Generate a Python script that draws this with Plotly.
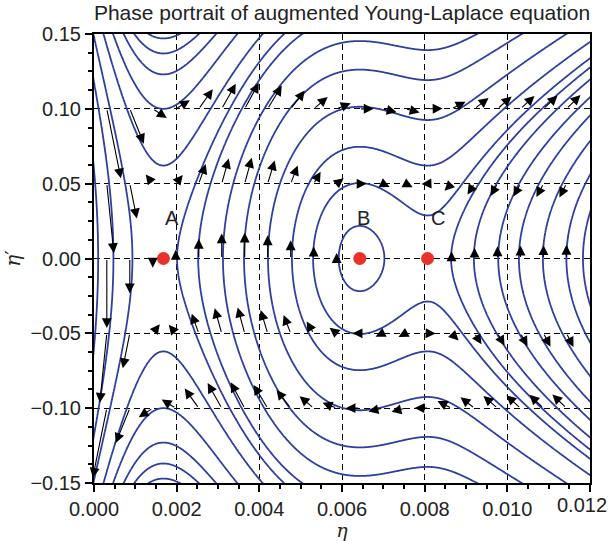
import numpy as np
import plotly.graph_objects as go

# Equilibria of the augmented Young-Laplace equation (eta' = 0, eta'' = 0)
fixed_eta = [0.00168, 0.00643, 0.00807]
fixed_names = ["A", "B", "C"]
label_eta = [0.00189, 0.00652, 0.00832]
label_slope = [0.027, 0.027, 0.027]

# Force law  eta'' = g(eta) = k (eta-A)(eta-B)(eta-C) * s(eta),
# s = 1 below C and 1 / (1 + ((eta-C)/L)^2) above C (pressure term saturates)
force_gain = 2.1e8
saturation_len = 0.00098

# Trajectories, each identified by the film thickness where eta' = 0 ...
turning_left = [0.00010, 0.00047, 0.00093]                       # left of A
turning_mid = [0.00201, 0.00252, 0.00312, 0.00363, 0.00421, 0.00479, 0.00530]
turning_orbit = [0.00592]                                          # closed orbit round B
turning_right = [0.00864, 0.00919, 0.00978, 0.01028, 0.01086, 0.01143, 0.01183]
# ... or by the slope with which they pass over the saddle A
slope_over_A = [0.062, 0.100, 0.123, 0.137, 0.147]

# Quiver sample rows / columns
arrow_rows = [0.10, 0.05, 0.0, -0.05, -0.10]
arrow_cols = [0.00031 + 0.000556 * i for i in range(21)]
arrow_scale = 0.0034
reversed_rows = [0.05, -0.05]

x_ticks = [0.000, 0.002, 0.004, 0.006, 0.008, 0.010, 0.012]
x_tick_text = ["0.000", "0.002", "0.004", "0.006", "0.008", "0.010", "0.012"]
y_ticks = [-0.15, -0.10, -0.05, 0.00, 0.05, 0.10, 0.15]

A, B, C = fixed_eta


def force(eta):
    eta = np.asarray(eta, dtype=float)
    x = eta - C
    damp = np.where(x > 0, 1.0 / (1.0 + (x / saturation_len) ** 2), 1.0)
    return force_gain * (eta - A) * (eta - B) * x * damp


# G(eta) = int g, so that H = eta'^2/2 - G(eta) is conserved along trajectories
eta_fine = np.linspace(-0.0003, 0.0123, 6001)
g_fine = force(eta_fine)
G_fine = np.concatenate([[0.0], np.cumsum(0.5 * (g_fine[1:] + g_fine[:-1]) * np.diff(eta_fine))])


def energy(eta, slope):
    return 0.5 * np.asarray(slope) ** 2 - np.interp(eta, eta_fine, G_fine)


blue = "#2f3f9f"
gy = np.linspace(-0.153, 0.153, 400)


def family_trace(levels, x_lo, x_hi, nx):
    """One contour trace drawing the level sets H = levels inside x_lo..x_hi."""
    levels = np.sort(np.asarray(levels, dtype=float))
    n = len(levels)
    gx = np.linspace(x_lo, x_hi, nx)
    EX, EY = np.meshgrid(gx, gy)
    H = energy(EX.ravel(), EY.ravel()).reshape(EX.shape)
    if n == 1:
        Z = (H - levels[0]) / 1e-4
        start = end = 0.0
    else:
        span = levels[-1] - levels[0]
        knots = np.concatenate([[levels[0] - 10 * span], levels, [levels[-1] + 10 * span]])
        idx = np.concatenate([[-10.0 * n], np.arange(n, dtype=float), [11.0 * n]])
        Z = np.interp(H, knots, idx)
        start, end = 0.0, n - 1.0
    return go.Contour(
        x=gx, y=gy, z=Z.astype(np.float32),
        contours=dict(start=start, end=end, size=1, coloring="lines", showlabels=False),
        colorscale=[[0, blue], [1, blue]], showscale=False, autocontour=False,
        line=dict(width=1.8, smoothing=1.0), hoverinfo="skip",
    )


fig = go.Figure()
fig.add_trace(family_trace([energy(e, 0.0) for e in turning_left], -0.0002, A, 260))
fig.add_trace(family_trace([energy(e, 0.0) for e in turning_mid], A, 0.0122, 700))
fig.add_trace(family_trace([energy(e, 0.0) for e in turning_orbit], A, C, 300))
fig.add_trace(family_trace([energy(e, 0.0) for e in turning_right], C, 0.0122, 300))
fig.add_trace(family_trace([energy(A, s) for s in slope_over_A], -0.0002, 0.0122, 800))

# direction arrows of the vector field (eta', g(eta))
ann = []
for r in arrow_rows:
    for c in arrow_cols:
        u = r
        v = float(force(c))
        sign = 1.0
        if r in reversed_rows and (c > C or 0.0011 < c < A):
            sign = -1.0
        hx = c + sign * arrow_scale * u
        hy = r + sign * arrow_scale * v
        ann.append(dict(x=hx, y=hy, ax=c, ay=r, xref="x", yref="y", axref="x", ayref="y",
                        showarrow=True, arrowhead=2, arrowsize=1.8, arrowwidth=1.1,
                        arrowcolor="black", text=""))

for n, e, s in zip(fixed_names, label_eta, label_slope):
    ann.append(dict(x=e, y=s, xref="x", yref="y", text=n, showarrow=False,
                    font=dict(size=20, color="#222", family="Liberation Sans")))

tick_font = dict(size=20, color="#222", family="Liberation Sans")
# last x tick label sits against the right edge of the figure
ann.append(dict(x=1, xref="paper", y=0, yref="paper", xanchor="right", yanchor="top",
                xshift=19, yshift=-9, text=x_tick_text[-1], showarrow=False, font=tick_font))

fig.add_trace(go.Scatter(x=fixed_eta, y=[0, 0, 0], mode="markers",
                         marker=dict(color="#e8322a", size=13), hoverinfo="skip"))

axis_common = dict(showline=True, linewidth=2, linecolor="black", mirror=True,
                   ticks="outside", ticklen=7, tickwidth=1.5, tickcolor="black",
                   showgrid=True, gridcolor="black", gridwidth=1, griddash="6px,4px",
                   zeroline=False, automargin=False, tickfont=tick_font)

fig.update_layout(
    width=609, height=541,
    margin=dict(l=94, r=19, t=34, b=58),
    paper_bgcolor="white", plot_bgcolor="white",
    showlegend=False,
    annotations=ann,
    title=dict(text="Phase portrait of augmented Young-Laplace equation",
               x=0.5, xref="paper", y=1 - 13 / 541, yref="container", yanchor="middle",
               font=dict(size=21, color="#222", family="Liberation Sans")),
    xaxis=dict(range=[0, 0.012], tickvals=x_ticks, ticktext=x_tick_text[:-1] + [""],
               minor=dict(dtick=0.0005, ticklen=4, ticks="outside", tickcolor="black", showgrid=False),
               title=dict(text="<i>η</i>", font=dict(size=19, family="DejaVu Serif", color="#222"), standoff=14),
               **axis_common),
    yaxis=dict(range=[-0.15, 0.15], tickvals=y_ticks, tickformat=".2f",
               minor=dict(dtick=0.0125, ticklen=4, ticks="outside", tickcolor="black", showgrid=False),
               title=dict(text="<i>η</i>′", font=dict(size=20, family="DejaVu Serif", color="#222"), standoff=4),
               **axis_common),
)

fig.write_html("out.html")
